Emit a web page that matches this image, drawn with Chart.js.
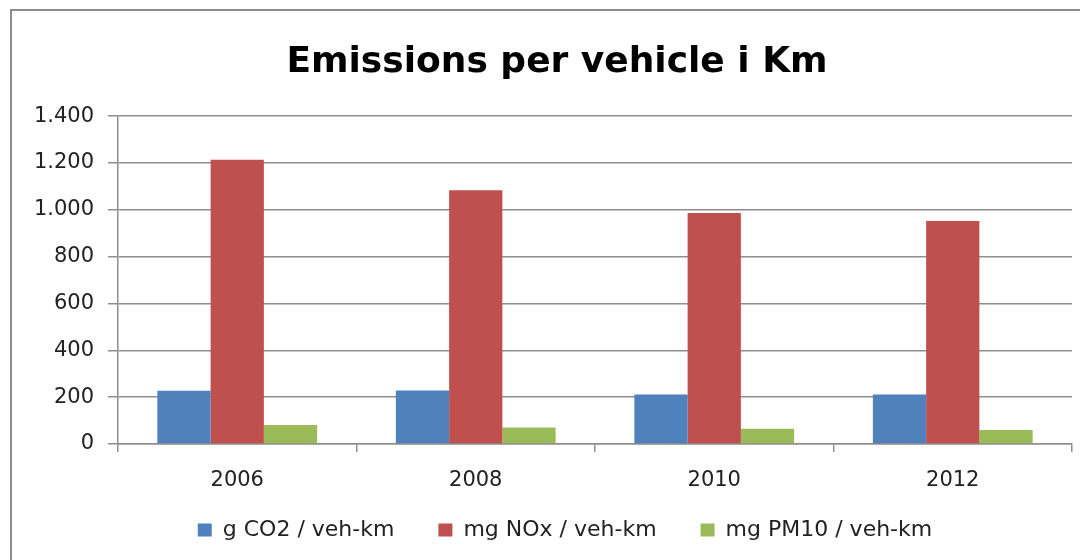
<!DOCTYPE html>
<html>
<head>
<meta charset="utf-8">
<script src="https://cdn.jsdelivr.net/npm/chart.js"></script>
<style>
  html, body { margin: 0; padding: 0; background: #fff; overflow: hidden; }
  .edge { position: absolute; background: #8c8c8c; }
  #edgeTop { left: 10px; top: 9px; width: 1100px; height: 2px; }
  #edgeLeft { left: 10px; top: 9px; width: 2px; height: 600px; }
  #box { position: absolute; left: 12px; top: 11px; width: 1090px; height: 549px; }
</style>
</head>
<body>
<div class="edge" id="edgeTop"></div>
<div class="edge" id="edgeLeft"></div>
<div id="box"><canvas id="myChart"></canvas></div>
<script>
// 차트 데이터
const years = ['2006', '2008', '2010', '2012'];
const co2 = [227, 228, 211, 211];
const nox = [1214, 1084, 987, 952];
const pm10 = [81, 71, 65, 60];

const FONT = 'DejaVu Sans';
const GRID = '#8e8e8e';

// 박스를 그릴 때만 잠깐 옮김 (제목/범례 위치 미세 조정)
function nudge(box, dx, dy) {
    const draw = box.draw;
    box.draw = function (area) {
        this.left += dx; this.right += dx; this.top += dy; this.bottom += dy;
        draw.call(this, area);
        this.left -= dx; this.right -= dx; this.top -= dy; this.bottom -= dy;
    };
}

// 범례: 가로 간격은 넓게, 세로 여백은 줄임
const boxTweaks = {
    id: 'boxTweaks',
    afterInit(chart) {
        const lg = chart.legend;
        const fit = lg.fit;
        lg.fit = function () { fit.call(this); this.height -= 10; };
        nudge(lg, 14, -19);
        nudge(chart.titleBlock, 6, 0);
    }
};

let ctx = document.getElementById('myChart').getContext('2d');
let myBarChart = new Chart(ctx, {
    type: 'bar',
    data: {
        labels: years,
        datasets: [
            { label: 'g CO2 / veh-km', data: co2, backgroundColor: '#4F81BD' },
            { label: 'mg NOx / veh-km', data: nox, backgroundColor: '#C0504D' },
            { label: 'mg PM10 / veh-km', data: pm10, backgroundColor: '#9BBB59' }
        ]
    },
    plugins: [boxTweaks],
    options: {
        responsive: true,
        maintainAspectRatio: false,
        animation: false,
        datasets: {
            bar: { categoryPercentage: 0.67, barPercentage: 1.0 }
        },
        layout: { padding: { left: 18, right: 30, top: 0, bottom: 0 } },
        plugins: {
            title: {
                display: true,
                text: 'Emissions per vehicle i Km',
                color: '#000',
                font: { family: FONT, size: 36, weight: 'bold' },
                padding: { top: 30, bottom: 32 }
            },
            legend: {
                position: 'bottom',
                labels: {
                    color: '#222',
                    font: { family: FONT, size: 22 },
                    boxWidth: 14,
                    boxHeight: 13,
                    padding: 44
                }
            },
            tooltip: { enabled: false }
        },
        scales: {
            x: {
                grid: {
                    offset: true,
                    drawOnChartArea: false,
                    drawTicks: true,
                    tickLength: 8,
                    color: GRID,
                    lineWidth: 1.5
                },
                border: { color: GRID, width: 1.5 },
                ticks: {
                    color: '#222',
                    font: { family: FONT, size: 21 },
                    padding: 16
                },
                afterFit: (scale) => { scale.height = 50; }
            },
            y: {
                min: 0,
                max: 1400,
                ticks: {
                    stepSize: 200,
                    color: '#222',
                    font: { family: FONT, size: 21 },
                    padding: 14,
                    callback: (v) => v.toString().replace(/\B(?=(\d{3})+(?!\d))/g, '.')
                },
                grid: {
                    color: GRID,
                    lineWidth: 1.5,
                    tickLength: 10
                },
                border: { color: GRID, width: 1.5 },
                afterFit: (scale) => { scale.width = 88; }
            }
        }
    }
});
</script>
</body>
</html>
